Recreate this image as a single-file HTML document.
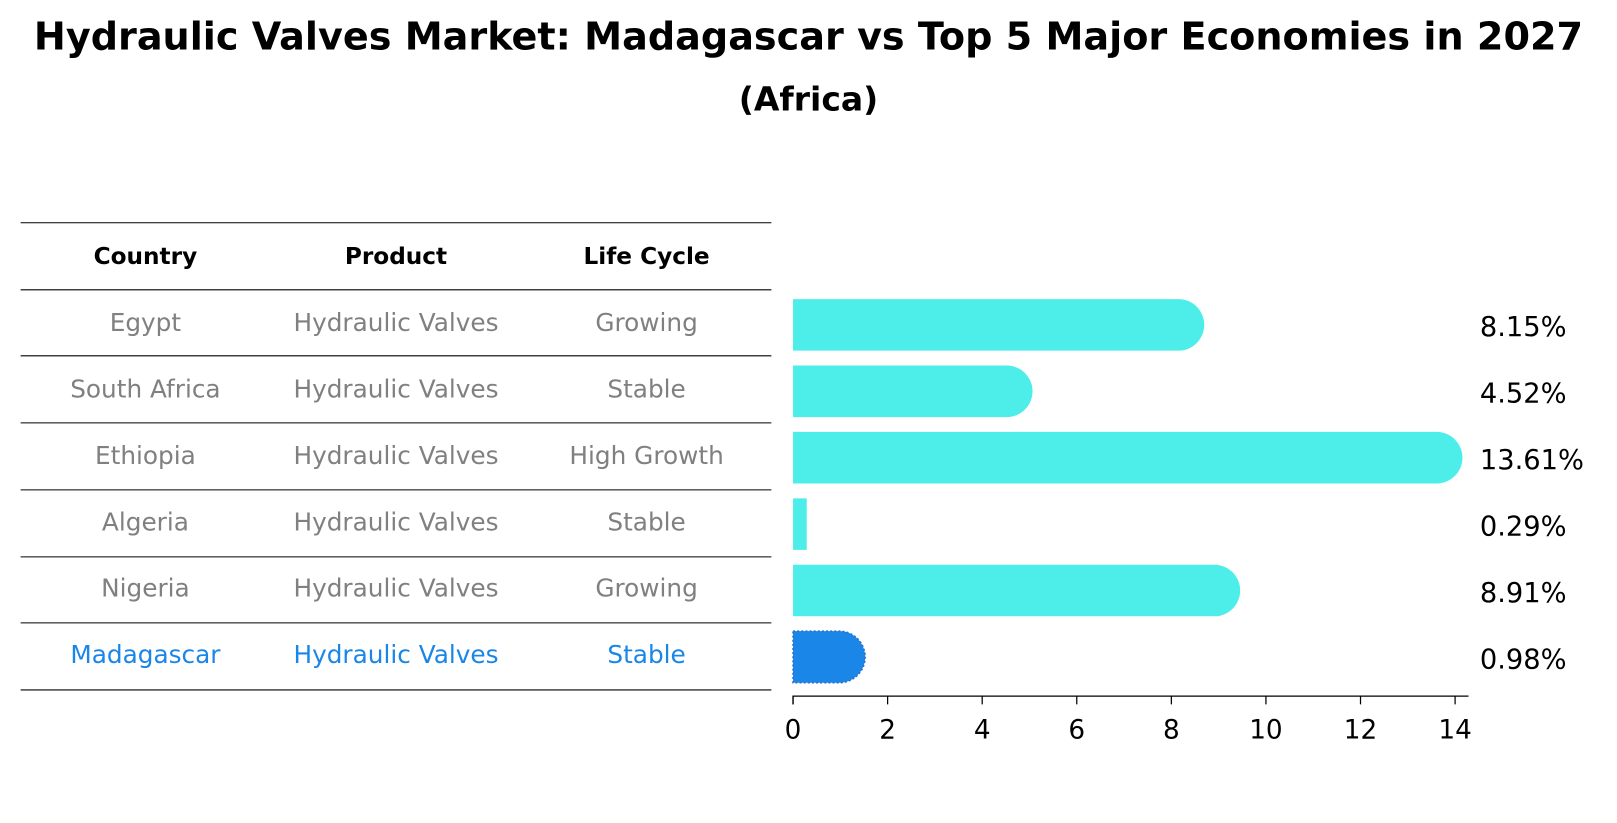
<!DOCTYPE html>
<html><head><meta charset="utf-8"><style>
html,body{margin:0;padding:0;background:#fff;}
svg{display:block;font-family:"DejaVu Sans","Liberation Sans",sans-serif;}
</style></head><body>
<svg id="chart" width="1617" height="823" viewBox="0 0 1568 798" xmlns="http://www.w3.org/2000/svg">
<text x="784" y="48" text-anchor="middle" font-size="37" font-weight="bold">Hydraulic Valves Market: Madagascar vs Top 5 Major Economies in 2027</text>
<text x="784" y="107" text-anchor="middle" font-size="32" font-weight="bold">(Africa)</text>
<g id="table"></g>
<g id="bars"></g>
<g id="axis"></g>
</svg>
<script>
const countries = ["Egypt","South Africa","Ethiopia","Algeria","Nigeria","Madagascar"];
const products = ["Hydraulic Valves","Hydraulic Valves","Hydraulic Valves","Hydraulic Valves","Hydraulic Valves","Hydraulic Valves"];
const lifeCycles = ["Growing","Stable","High Growth","Stable","Growing","Stable"];
const values = [8.15,4.52,13.61,0.29,8.91,0.98];
const tickValues = [0,2,4,6,8,10,12,14];

const NS="http://www.w3.org/2000/svg";
function mk(tag,attrs,parent){const e=document.createElementNS(NS,tag);for(const k in attrs)e.setAttribute(k,attrs[k]);parent.appendChild(e);return e;}
const x0=769, pxPer=(1411-769)/14;
const xs=v=>x0+v*pxPer;
const rowY=i=>313+i*64.4;
const table=document.getElementById('table'), bars=document.getElementById('bars'), axis=document.getElementById('axis');
const lineYs=[216,281,345,410,475,540,604,669];
lineYs.forEach((y,i)=>{
  const l=mk('line',{x1:20,x2:748,y1:y,y2:y,stroke:'#000','stroke-width':1},table);
  
  
});
const colX=[141,384,627];
["Country","Product","Life Cycle"].forEach((h,j)=>{
  const t=mk('text',{x:colX[j],y:256,'text-anchor':'middle','font-size':22.5,'font-weight':'bold'},table);
  t.textContent=h;
  
  
});
countries.forEach((c,i)=>{
  const hl=i===countries.length-1;
  const col=hl?'#1a86e8':'#808080';
  [c,products[i],lifeCycles[i]].forEach((s,j)=>{
    const t=mk('text',{x:colX[j],y:rowY(i)+8,'text-anchor':'middle','font-size':24,fill:col},table);
    t.textContent=s;
    
    
  });
  const h=50, r=25, yt=rowY(i)-25+2, w=xs(values[i])-x0;
  const fill=hl?'#1a86e8':'#4deeea';
  let d;
  if(w>r){d=`M${x0},${yt}H${x0+w}A${r},${r} 0 0 1 ${x0+w},${yt+h}H${x0}Z`;}
  else{d=`M${x0},${yt}H${x0+w}V${yt+h}H${x0}Z`;}
  const p=mk('path',{d:d,fill:fill},bars);
  if(hl){p.setAttribute('stroke','#2a6fd0');p.setAttribute('stroke-dasharray','2,2');p.setAttribute('stroke-width','1.5');}
  
  
  const vl=mk('text',{x:1435,y:rowY(i)+13,'font-size':26.5},bars);
  vl.textContent=values[i].toFixed(2)+'%';
  
  
});
const al=mk('path',{d:`M${x0},683V675H1424`,fill:'none',stroke:'#000','stroke-width':1.2},axis);


tickValues.forEach(v=>{
  const tl=mk('line',{x1:xs(v),x2:xs(v),y1:675,y2:683,stroke:'#000','stroke-width':1.2},axis);
  
  
  const t=mk('text',{x:xs(v),y:716,'text-anchor':'middle','font-size':25.5},axis);
  t.textContent=v;
  
  
});
</script>
</body></html>
